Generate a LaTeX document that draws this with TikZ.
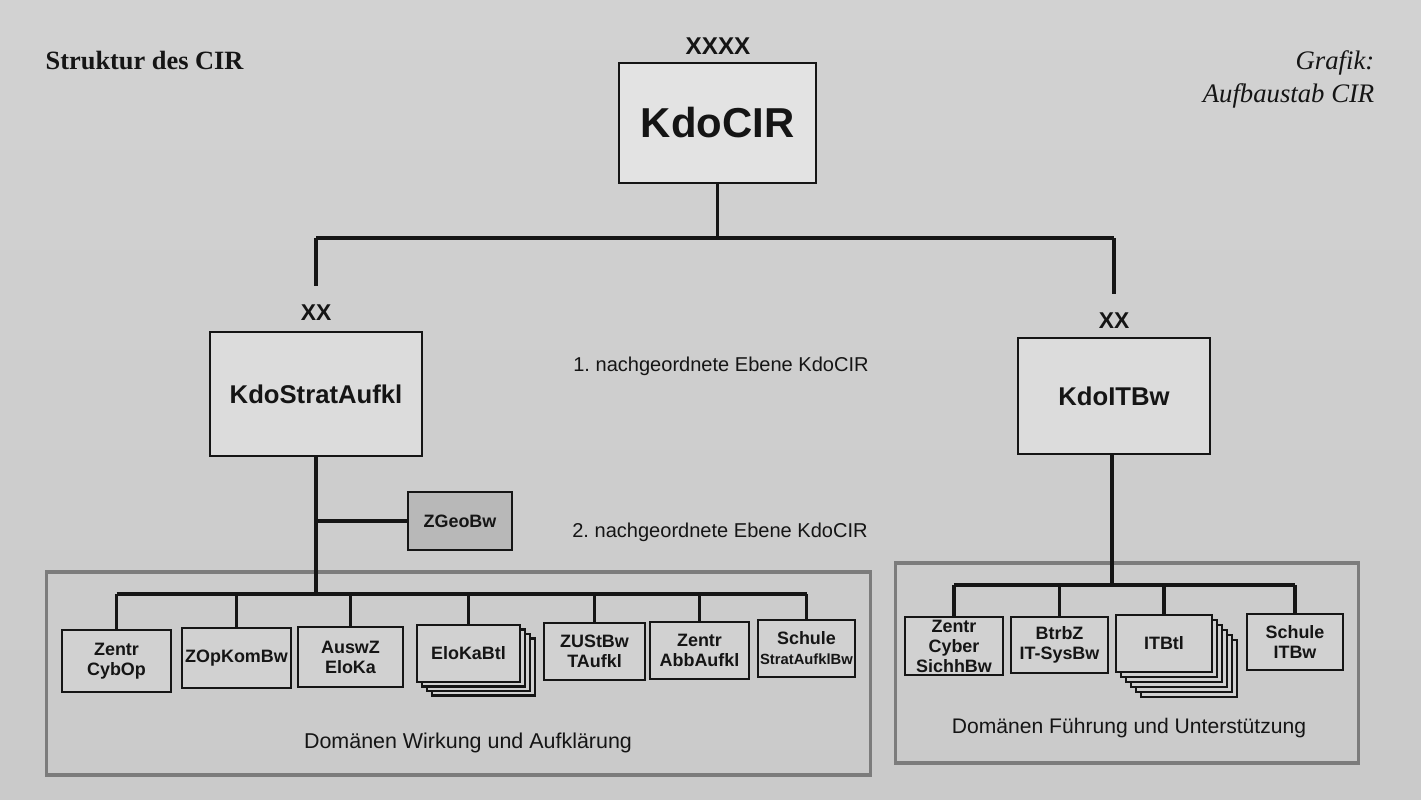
\documentclass[tikz,border=0pt]{standalone}
\usepackage{fontspec}
\setmainfont{Liberation Serif}
\setsansfont{Liberation Sans}
\usetikzlibrary{calc}
\frenchspacing
\definecolor{paperA}{HTML}{D2D2D2}
\definecolor{paperB}{HTML}{DDDDDD}
\definecolor{paperC}{HTML}{CACACA}
\definecolor{boxlight}{HTML}{E3E3E3}
\definecolor{boxmid}{HTML}{DCDCDC}
\definecolor{unitfill}{HTML}{D1D1D1}
\definecolor{zgeofill}{HTML}{B8B8B8}
\definecolor{grpline}{HTML}{7C7C7C}
\definecolor{ink}{HTML}{151515}
\begin{document}
\begin{tikzpicture}[x=0.01cm,y=-0.01cm,
  mainbox/.style={draw=ink, line width=0.8pt, fill=#1, inner sep=0pt, align=center, font=\sffamily\bfseries\fontsize{7.3}{8.5}\selectfont, text=ink},
  mainbox/.default=boxmid,
  unit/.style={draw=ink, line width=0.75pt, fill=unitfill, inner sep=0pt, align=center, font=\sffamily\bfseries\fontsize{5.1}{5.7}\selectfont, text=ink},
  grp/.style={draw=grpline, line width=0.9pt, inner sep=0pt},
  conn/.style={draw=ink, line width=0.9pt},
  lbl/.style={inner sep=0pt, text=ink, font=\sffamily\fontsize{5.7}{6.8}\selectfont},
  xxlbl/.style={inner sep=0pt, text=ink, font=\sffamily\bfseries\fontsize{6.5}{7.5}\selectfont}
]
\useasboundingbox (0,0) rectangle (1421,800);
\shade[top color=paperA, middle color=paperB, bottom color=paperC] (0,0) rectangle (1421,800);

% title and source
\node[anchor=base west, inner sep=0pt, text=ink, font=\rmfamily\bfseries\fontsize{7.5}{9}\selectfont] (title) at (45,70) {Struktur des CIR};
\node[anchor=north east, inner sep=0pt, align=right, text=ink, font=\rmfamily\itshape\fontsize{7.6}{9.4}\selectfont] (source) at (1375,50) {Grafik:\\Aufbaustab CIR};

% group frames
\node[grp, minimum width=8.23cm, minimum height=2.03cm] (grpL) at (458.5,673.5) {};
\node[grp, minimum width=4.62cm, minimum height=2.00cm] (grpR) at (1127,663) {};
\node[lbl, font=\sffamily\fontsize{6.1}{7}\selectfont] (domL) at (468,743) {Domänen Wirkung und Aufklärung};
\node[lbl, font=\sffamily\fontsize{6.0}{7}\selectfont] (domR) at (1129,728) {Domänen Führung und Unterstützung};

% level labels
\node[lbl] (ebene1) at (721,366) {1. nachgeordnete Ebene KdoCIR};
\node[lbl] (ebene2) at (720,532) {2. nachgeordnete Ebene KdoCIR};

% top command
\node[xxlbl, font=\sffamily\bfseries\fontsize{6.9}{8}\selectfont] (xxxx) at (718,46) {XXXX};
\node[mainbox=boxlight, minimum width=1.97cm, minimum height=1.20cm, font=\sffamily\bfseries\fontsize{11.9}{14}\selectfont] (cir) at (717.5,123) {KdoCIR};

\coordinate (hL) at (316,238);
\coordinate (hR) at (1114,238);
\draw[conn] (cir.south) -- (cir.south |- hL);
\draw[conn] (hL) -- (hR);

% first level
\node[xxlbl] (xxL) at (316,312.5) {XX};
\node[xxlbl] (xxR) at (1114,321) {XX};
\draw[conn, shorten >=0.18cm] (hL) -- (xxL.north);
\draw[conn, shorten >=0.18cm] (hR) -- (xxR.north);

\node[mainbox, minimum width=2.12cm, minimum height=1.24cm] (strat) at (316,394) {KdoStratAufkl};
\node[mainbox, minimum width=1.92cm, minimum height=1.16cm] (itbw) at (1114,396) {KdoITBw};

% ZGeoBw
\node[unit, fill=zgeofill, minimum width=1.04cm, minimum height=0.58cm] (zgeo) at (460,521) {ZGeoBw};
\draw[conn] (zgeo.west) -- (zgeo.west -| strat.south);

% left domain
\coordinate (busL) at (316,594);
\draw[conn] (strat.south) -- (busL);

\node[unit, minimum width=1.09cm, minimum height=0.62cm] (c1) at (116.5,661) {Zentr\\CybOp};
\node[unit, minimum width=1.09cm, minimum height=0.60cm] (c2) at (236.5,658) {ZOpKomBw};
\node[unit, minimum width=1.05cm, minimum height=0.60cm] (c3) at (350.5,657) {AuswZ\\EloKa};
\foreach \k in {3,2,1}
  \node[unit, minimum width=1.03cm, minimum height=0.57cm] (c4s\k) at (468.5+5*\k,653.5+4.5*\k) {};
\node[unit, minimum width=1.03cm, minimum height=0.57cm] (c4) at (468.5,653.5) {EloKaBtl};
\node[unit, minimum width=1.01cm, minimum height=0.57cm] (c5) at (594.5,651.5) {ZUStBw\\TAufkl};
\node[unit, minimum width=0.99cm, minimum height=0.57cm] (c6) at (699.5,650.5) {Zentr\\AbbAufkl};
\node[unit, minimum width=0.97cm, minimum height=0.57cm] (c7) at (806.5,648.5) {Schule\\{\fontsize{4.2}{5.7}\selectfont StratAufklBw}};

\draw[conn] (c1.north |- busL) -- (c7.north |- busL);
\foreach \c in {c1,c2,c3,c4,c5,c6,c7}
  \draw[conn] (\c.north |- busL) -- (\c.north);

% right domain
\coordinate (busR) at (1112,585);
\draw[conn] (itbw.south -| busR) -- (busR);

\node[unit, minimum width=0.98cm, minimum height=0.58cm] (r1) at (954,646) {Zentr\\Cyber\\SichhBw};
\node[unit, minimum width=0.97cm, minimum height=0.56cm] (r2) at (1059.5,645) {BtrbZ\\IT-SysBw};
\foreach \k in {5,4,3,2,1}
  \node[unit, minimum width=0.96cm, minimum height=0.57cm] (r3s\k) at (1164+5*\k,643.5+5*\k) {};
\node[unit, minimum width=0.96cm, minimum height=0.57cm] (r3) at (1164,643.5) {ITBtl};
\node[unit, minimum width=0.96cm, minimum height=0.56cm] (r4) at (1295,642) {Schule\\ITBw};

\draw[conn] (r1.north |- busR) -- (r4.north |- busR);
\foreach \c in {r1,r2,r3,r4}
  \draw[conn] (\c.north |- busR) -- (\c.north);
\end{tikzpicture}
\end{document}
